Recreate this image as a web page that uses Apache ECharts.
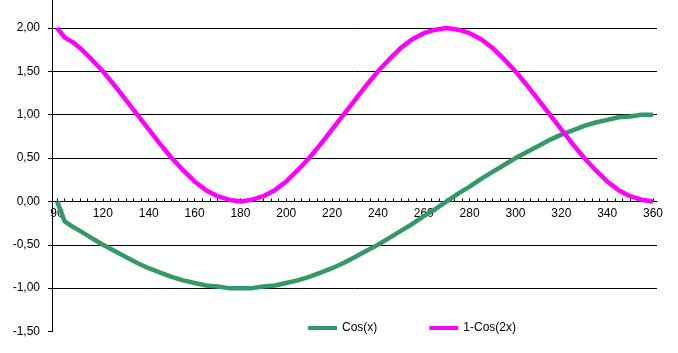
<!DOCTYPE html>
<html>
<head>
<meta charset="utf-8">
<script src="https://cdn.jsdelivr.net/npm/echarts@6/dist/echarts.min.js"></script>
<style>
  html, body { margin: 0; padding: 0; background: #fff; }
  #chart { width: 678px; height: 353px; }
</style>
</head>
<body>
<div id="chart"></div>
<script>
var chart = echarts.init(document.getElementById('chart'));

// positions along the x axis (first point is the "90" category)
var xVals = [100, 103.33, 106.67, 110, 115, 120, 125, 130, 135, 140, 145, 150, 155, 160, 165, 170, 175, 180,
    185, 190, 195, 200, 205, 210, 215, 220, 225, 230, 235, 240, 245, 250, 255, 260, 265, 270,
    275, 280, 285, 290, 295, 300, 305, 310, 315, 320, 325, 330, 335, 340, 345, 350, 355, 360];

var cosVals = [0, -0.23, -0.29, -0.34, -0.42, -0.5, -0.57, -0.64, -0.71, -0.77, -0.82, -0.87, -0.91, -0.94, -0.97, -0.98, -1.0, -1.0,
    -1.0, -0.98, -0.97, -0.94, -0.91, -0.87, -0.82, -0.77, -0.71, -0.64, -0.57, -0.5, -0.42, -0.34, -0.26, -0.17, -0.09, 0,
    0.09, 0.17, 0.26, 0.34, 0.42, 0.5, 0.57, 0.64, 0.71, 0.77, 0.82, 0.87, 0.91, 0.94, 0.97, 0.98, 1.0, 1.0];

var oneMinusCos2 = [2.0, 1.89, 1.84, 1.77, 1.64, 1.5, 1.34, 1.17, 1.0, 0.83, 0.66, 0.5, 0.36, 0.23, 0.13, 0.06, 0.02, 0,
    0.02, 0.06, 0.13, 0.23, 0.36, 0.5, 0.66, 0.83, 1.0, 1.17, 1.34, 1.5, 1.64, 1.77, 1.87, 1.94, 1.98, 2.0,
    1.98, 1.94, 1.87, 1.77, 1.64, 1.5, 1.34, 1.17, 1.0, 0.83, 0.66, 0.5, 0.36, 0.23, 0.13, 0.06, 0.02, 0];

// tick labels on the x axis and where they sit
var tickLabels = ['90', '120', '140', '160', '180', '200', '220', '240', '260', '280', '300', '320', '340', '360'];
var labelPos = [100, 120, 140, 160, 180, 200, 220, 240, 260, 280, 300, 320, 340, 360];

var seriesNames = ['Cos(x)', '1-Cos(2x)'];

function pairs(ys) {
    var out = [];
    for (var i = 0; i < xVals.length; i++) out.push([xVals[i], ys[i]]);
    return out;
}

// small ticks every 10/3 units, like the category ticks of the original
var tickPos = [];
for (var k = 0; k <= 78; k++) tickPos.push(100 + k * 10 / 3);

var font = '"Liberation Sans", Arial, sans-serif';
var yMin = -1.5, yMax = 2.5;
var gridTop = -15.4, gridBottom = 21.5;
// pull the x axis up from the grid bottom to the zero line
var plotH = 353 - gridTop - gridBottom;
var zeroOffset = -plotH * (0 - yMin) / (yMax - yMin);

var option = {
    animation: false,
    backgroundColor: '#fff',
    grid: { left: 52, right: 21, top: gridTop, bottom: gridBottom, containLabel: false, outerBoundsMode: 'none' },
    xAxis: {
        type: 'value',
        min: 97.8,
        max: 361.75,
        position: 'bottom',
        offset: zeroOffset,
        axisLine: { onZero: false, lineStyle: { color: '#000', width: 1 } },
        axisTick: { show: true, inside: true, length: 3, customValues: tickPos, lineStyle: { color: '#000' } },
        axisLabel: {
            customValues: labelPos,
            margin: 6,
            color: '#000',
            fontSize: 12,
            fontFamily: font,
            formatter: function (v) {
                for (var i = 0; i < labelPos.length; i++) {
                    if (Math.abs(labelPos[i] - v) < 0.01) return tickLabels[i];
                }
                return '';
            }
        },
        splitLine: { show: false }
    },
    yAxis: {
        type: 'value',
        min: yMin,
        max: yMax,
        interval: 0.5,
        axisLine: { show: true, lineStyle: { color: '#000', width: 1 } },
        axisTick: { show: true, length: 4, lineStyle: { color: '#000' } },
        axisLabel: {
            margin: 12,
            color: '#000',
            fontSize: 12,
            fontFamily: font,
            formatter: function (v) { return v.toFixed(2).replace('.', ','); }
        },
        splitLine: {
            show: true,
            lineStyle: { color: ['transparent', '#000', '#000', '#000', '#000', '#000', '#000', '#000', '#000'], width: 1 }
        }
    },
    legend: {
        left: 303,
        top: 317,
        itemWidth: 29,
        itemHeight: 4,
        itemGap: 52,
        icon: 'rect',
        textStyle: { color: '#000', fontSize: 12, fontFamily: font },
        data: seriesNames
    },
    series: [
        {
            name: seriesNames[0],
            type: 'line',
            data: pairs(cosVals),
            showSymbol: false,
            color: '#339966',
            lineStyle: { width: 4.5, color: '#339966', join: 'round' }
        },
        {
            name: seriesNames[1],
            type: 'line',
            data: pairs(oneMinusCos2),
            showSymbol: false,
            color: '#ff00ff',
            lineStyle: { width: 4.5, color: '#ff00ff', join: 'round' }
        }
    ]
};
chart.setOption(option);
</script>
</body>
</html>
